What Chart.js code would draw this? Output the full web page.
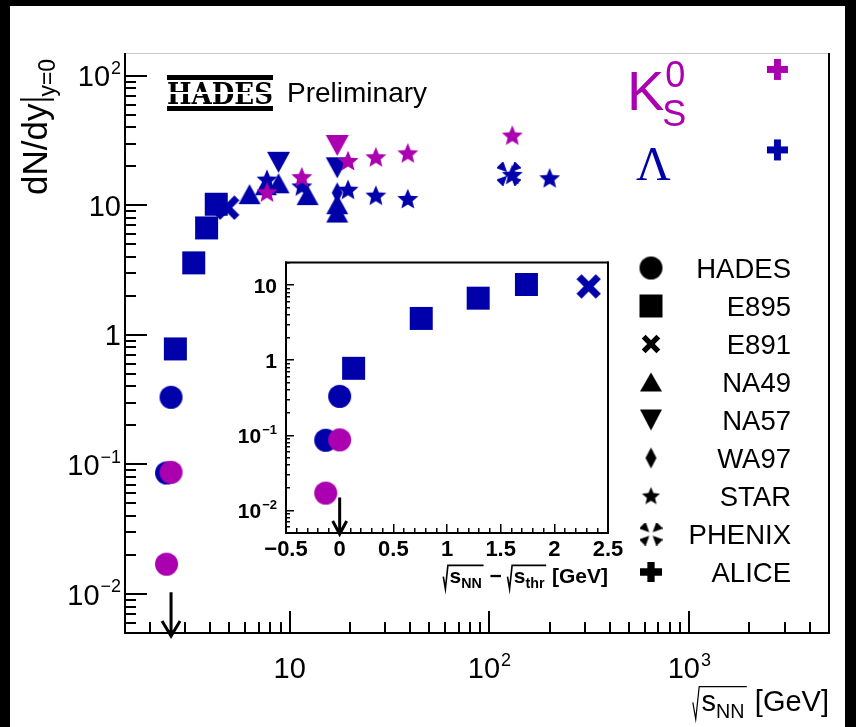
<!DOCTYPE html>
<html>
<head>
<meta charset="utf-8">
<script src="https://cdn.jsdelivr.net/npm/chart.js@4.4.0/dist/chart.umd.min.js"></script>
<style>
  body { margin: 0; background: #000; width: 856px; height: 727px; overflow: hidden; position: relative; }
  #main { position: absolute; left: 10px; top: 6px; background: #fff; }
  #inset { position: absolute; left: 225px; top: 250px; }
</style>
</head>
<body>
<canvas id="main" width="835" height="721"></canvas>
<canvas id="inset" width="415" height="350"></canvas>
<script>
// Lambda production threshold in NN collisions [GeV]
const sqrtSThr = 2.55;

// Lambda: sqrt(s_NN) [GeV] and dN/dy at y=0
const lamHadesE = [2.42, 2.55];
const lamHadesY = [0.086, 0.33];
const lamE895E = [2.68, 3.31, 3.84, 4.29];
const lamE895Y = [0.78, 3.6, 6.7, 10.2];
const lamE891E = [4.87];
const lamE891Y = [9.6];
const lamNA49E = [6.3, 7.6, 8.8, 12.3, 17.3, 17.3];
const lamNA49Y = [12.2, 14.3, 14.8, 12.0, 10.2, 8.8];
const lamNA57E = [8.8, 17.3];
const lamNA57Y = [21.5, 19.5];
const lamWA97E = [17.3];
const lamWA97Y = [12.5];
const lamStarE = [7.7, 11.5, 19.6, 27, 39, 130, 200];
const lamStarY = [15.8, 14, 13.2, 11.9, 11.2, 17.2, 16.2];
const lamPhenixE = [125];
const lamPhenixY = [17.5];
const lamAliceE = [2760];
const lamAliceY = [26.8];

// K0s: sqrt(s_NN) [GeV] and dN/dy at y=0
const k0HadesE = [2.42, 2.55];
const k0HadesY = [0.017, 0.087];
const k0NA57E = [17.3];
const k0NA57Y = [29];
const k0StarE = [7.7, 11.5, 19.6, 27, 39, 130];
const k0StarY = [12.6, 16.5, 22, 23.5, 25.2, 34.6];
const k0AliceE = [2760];
const k0AliceY = [112];

// axis ranges and labelled ticks
const mainXRange = [1.5, 5000];
const mainYRange = [0.005, 150];
const mainXLabels = [10, 100, 1000];
const mainYLabels = [0.01, 0.1, 1, 10, 100];
const insetXRange = [-0.5, 2.5];
const insetYRange = [0.005, 20];
const insetXLabels = [-0.5, 0, 0.5, 1, 1.5, 2, 2.5];
const insetYLabels = [0.01, 0.1, 1, 10];

const legendNames = ['HADES', 'E895', 'E891', 'NA49', 'NA57', 'WA97', 'STAR', 'PHENIX', 'ALICE'];
const legendShapes = ['circle', 'square', 'x', 'up', 'down', 'diamond', 'star', 'phenix', 'plus'];

const blue = '#0000aa';
const magenta = '#aa00b0';
const sans = '"Liberation Sans", Arial, sans-serif';

function fontOf(size, weight, fam) {
  return `${weight || 'normal'} ${size}px ${fam || sans}`;
}

// ROOT-like filled markers, rendered once into small canvases
const markerSize = {
  circle: [23, 23], square: [23, 23], up: [22, 20], down: [23, 21], diamond: [11, 21],
  star: [22, 22], plus: [21, 21], x: [21, 21], phenix: [20, 20]
};
const legendSize = {
  circle: [23, 23], square: [23, 23], up: [22, 19], down: [22, 21], diamond: [11, 21],
  star: [19, 19], plus: [22, 20], x: [16, 16], phenix: [19, 19]
};

function marker(shape, color, dims) {
  const [w, h] = dims;
  const c = document.createElement('canvas');
  c.width = Math.ceil(w + 4);
  c.height = Math.ceil(h + 4);
  const g = c.getContext('2d');
  const rx = w / 2, ry = h / 2;
  g.fillStyle = color;
  g.translate(c.width / 2, c.height / 2);
  g.beginPath();
  switch (shape) {
    case 'circle':
      g.arc(0, 0, rx, 0, Math.PI * 2);
      break;
    case 'square':
      g.rect(-rx, -ry, w, h);
      break;
    case 'up':
      g.moveTo(0, -ry); g.lineTo(rx, ry); g.lineTo(-rx, ry);
      break;
    case 'down':
      g.moveTo(0, ry); g.lineTo(rx, -ry); g.lineTo(-rx, -ry);
      break;
    case 'diamond':
      g.moveTo(0, -ry); g.lineTo(rx, 0); g.lineTo(0, ry); g.lineTo(-rx, 0);
      break;
    case 'star':
      for (let i = 0; i < 10; i++) {
        const ang = -Math.PI / 2 + i * Math.PI / 5;
        const r = i % 2 ? rx * 0.45 : rx;
        g.lineTo(r * Math.cos(ang), r * Math.sin(ang) + ry * 0.06);
      }
      break;
    case 'plus': {
      const t = w * 0.33;
      g.rect(-t / 2, -ry, t, h);
      g.rect(-rx, -t / 2, w, t);
      break;
    }
    case 'x': {
      const t = w * 0.34, l = rx * 1.3;
      g.rotate(Math.PI / 4);
      g.rect(-t / 2, -l, t, 2 * l);
      g.rect(-l, -t / 2, 2 * l, t);
      break;
    }
    case 'phenix':
      for (let k = 0; k < 4; k++) {
        const ang = Math.PI / 4 + k * Math.PI / 2;
        const ux = Math.cos(ang), uy = Math.sin(ang);
        const inner = rx * 0.25, outer = rx * 1.3, half = rx * 0.5;
        g.moveTo(ux * inner, uy * inner);
        g.lineTo(ux * outer - uy * half, uy * outer + ux * half);
        g.lineTo(ux * outer + uy * half, uy * outer - ux * half);
        g.closePath();
      }
      break;
  }
  g.closePath();
  g.fill();
  return c;
}

const legendMarkers = legendShapes.map(s => marker(s, '#000', legendSize[s]));

function pts(xs, ys, shift) {
  return xs.map((x, i) => ({ x: x - (shift || 0), y: ys[i] }));
}

function series(label, xs, ys, shape, color, order, shift) {
  return {
    label,
    data: pts(xs, ys, shift),
    pointStyle: marker(shape, color, markerSize[shape]),
    pointRadius: markerSize[shape][0] / 2,
    order
  };
}

// 1..9 x 10^n steps inside [lo, hi]
function logSteps(lo, hi) {
  const out = [];
  const e0 = Math.floor(Math.log10(lo)), e1 = Math.ceil(Math.log10(hi));
  for (let e = e0; e <= e1; e++) {
    for (let m = 1; m < 10; m++) {
      const v = m * Math.pow(10, e);
      if (v >= lo * 0.999 && v <= hi * 1.001) out.push({ v: v, major: m === 1 });
    }
  }
  return out;
}

// tick marks pointing into the frame
function yTicks(ctx, scale, steps, x0, majLen, minLen, th) {
  steps.forEach(t => {
    const py = scale.getPixelForValue(t.v);
    ctx.fillRect(x0, Math.round(py - th / 2), t.major ? majLen : minLen, th);
  });
}
function xTicks(ctx, scale, steps, y0, majLen, minLen, th) {
  steps.forEach(t => {
    const px = scale.getPixelForValue(t.v);
    const len = t.major ? majLen : minLen;
    ctx.fillRect(Math.round(px - th / 2), y0 - len, th, len);
  });
}

function powerParts(v) {
  const e = Math.round(Math.log10(v));
  if (e === 0) return ['1', ''];
  if (e === 1) return ['10', ''];
  return ['10', e < 0 ? '\u2212' + (-e) : String(e)];
}

function drawPower(ctx, v, x, base, size, weight, align) {
  const [b, e] = powerParts(v);
  ctx.font = fontOf(size, weight);
  const wb = ctx.measureText(b).width;
  ctx.font = fontOf(size * 0.62, weight);
  const we = e ? ctx.measureText(e).width + 1 : 0;
  const w = wb + we;
  const x0 = align === 'right' ? x - w : x - w / 2;
  ctx.textAlign = 'left';
  ctx.textBaseline = 'alphabetic';
  ctx.font = fontOf(size, weight);
  ctx.fillText(b, x0, base);
  if (e) {
    ctx.font = fontOf(size * 0.62, weight);
    ctx.fillText(e, x0 + wb + 1, base - size * 0.42);
  }
}

// radical sign over "s" with a subscript; returns the width used
function sqrtTerm(ctx, x, base, size, sub, weight, draw) {
  ctx.font = fontOf(size, weight);
  const ws = ctx.measureText('s').width;
  ctx.font = fontOf(size * 0.68, weight);
  const wsub = ctx.measureText(sub).width;
  const lead = size * 0.3;
  const w = lead + ws + wsub + size * 0.08;
  if (draw) {
    const top = base - size * 0.84;
    ctx.lineWidth = weight === 'bold' ? 1.6 : 1.2;
    ctx.beginPath();
    ctx.moveTo(x, base - size * 0.3);
    ctx.lineTo(x + size * 0.1, base + size * 0.28);
    ctx.lineTo(x + size * 0.22, top);
    ctx.lineTo(x + w, top);
    ctx.stroke();
    ctx.textAlign = 'left';
    ctx.font = fontOf(size, weight);
    ctx.fillText('s', x + lead, base);
    ctx.font = fontOf(size * 0.68, weight);
    ctx.fillText(sub, x + lead + ws, base + size * 0.24);
  }
  return w;
}

// pieces: strings or {sqrt: 'NN'}; right aligned at xRight
function drawTitle(ctx, pieces, xRight, base, size, weight) {
  const widthOf = p => {
    if (typeof p === 'string') { ctx.font = fontOf(size, weight); return ctx.measureText(p).width; }
    return sqrtTerm(ctx, 0, base, size, p.sqrt, weight, false);
  };
  let x = xRight - pieces.reduce((s, p) => s + widthOf(p), 0);
  pieces.forEach(p => {
    const w = widthOf(p);
    if (typeof p === 'string') {
      ctx.font = fontOf(size, weight);
      ctx.textAlign = 'left';
      ctx.fillText(p, x, base);
    } else {
      sqrtTerm(ctx, x, base, size, p.sqrt, weight, true);
    }
    x += w;
  });
}

function drawArrow(ctx, px, top, bottom, half, head, lw) {
  ctx.lineWidth = lw;
  ctx.lineCap = 'butt';
  ctx.beginPath();
  ctx.moveTo(px, top);
  ctx.lineTo(px, bottom - 1);
  ctx.moveTo(px - half, bottom - head);
  ctx.lineTo(px, bottom);
  ctx.lineTo(px + half, bottom - head);
  ctx.stroke();
}

const mainDecor = {
  id: 'mainDecor',
  afterDraw(chart) {
    const ctx = chart.ctx, a = chart.chartArea;
    const xs = chart.scales.x, ys = chart.scales.y;
    ctx.save();

    // frame: grey top edge, black axes
    ctx.fillStyle = '#c8c8c8';
    ctx.fillRect(a.left, a.top, a.right - a.left, 1);
    ctx.fillStyle = '#000';
    ctx.fillRect(a.left - 1, a.top, 2, a.bottom - a.top + 1);
    ctx.fillRect(a.left - 1, a.bottom - 1, a.right - a.left + 2, 2);
    ctx.fillRect(a.right - 1, a.top, 2, a.bottom - a.top + 1);

    yTicks(ctx, ys, logSteps(mainYRange[0], mainYRange[1]), a.left, 22, 11, 2);
    xTicks(ctx, xs, logSteps(mainXRange[0], mainXRange[1]), a.bottom, 22, 11, 2);

    // tick labels
    mainYLabels.forEach(v => drawPower(ctx, v, a.left - 4, ys.getPixelForValue(v) + 10.5, 29, 'normal', 'right'));
    mainXLabels.forEach(v => drawPower(ctx, v, xs.getPixelForValue(v), a.bottom + 45, 29, 'normal', 'center'));

    // axis titles
    ctx.strokeStyle = '#000';
    drawTitle(ctx, [{ sqrt: 'NN' }, ' [GeV]'], a.right, a.bottom + 78, 29, 'normal');
    ctx.save();
    ctx.translate(37, 189);
    ctx.rotate(-Math.PI / 2);
    ctx.font = fontOf(35);
    ctx.textAlign = 'left';
    ctx.fillText('dN/dy', 0, 0);
    const wt = ctx.measureText('dN/dy').width;
    ctx.fillRect(wt + 3, -27, 2, 34);
    ctx.font = fontOf(23);
    ctx.fillText('y=0', wt + 7, 8);
    ctx.restore();

    // threshold arrow
    drawArrow(ctx, xs.getPixelForValue(sqrtSThr), ys.getPixelForValue(0.0103), a.bottom + 3, 9, 15, 3);

    // experiment logo
    ctx.fillRect(157, 69, 106, 5);
    ctx.fillRect(157, 100, 106, 5);
    ctx.save();
    ctx.font = fontOf(28, 'bold', '"DejaVu Serif", serif');
    const lw = ctx.measureText('HADES').width;
    ctx.translate(157, 98);
    ctx.scale(106 / lw, 1.05);
    ctx.fillText('HADES', 0, 0);
    ctx.restore();
    ctx.fillStyle = '#fff';
    ctx.fillRect(157, 86, 106, 2);
    ctx.fillStyle = '#000';
    ctx.font = fontOf(28);
    ctx.fillText('Preliminary', 277, 96);

    // particle labels
    ctx.fillStyle = magenta;
    ctx.font = fontOf(56);
    ctx.fillText('K', 617, 104);
    const wk = ctx.measureText('K').width;
    ctx.font = fontOf(36);
    ctx.fillText('0', 617 + wk + 1, 81);
    ctx.fillText('S', 617 + wk - 2, 120);
    ctx.fillStyle = blue;
    ctx.font = fontOf(48, 'normal', '"Liberation Serif", "DejaVu Serif", serif');
    ctx.fillText('\u039B', 626, 174);

    // experiment legend
    ctx.fillStyle = '#000';
    ctx.font = fontOf(27.5);
    ctx.textAlign = 'right';
    legendNames.forEach((name, i) => {
      const cy = 262 + i * 38;
      const m = legendMarkers[i];
      ctx.drawImage(m, 641 - m.width / 2, cy - m.height / 2);
      ctx.fillText(name, 781, cy + 10);
    });
    ctx.restore();
  }
};

const insetDecor = {
  id: 'insetDecor',
  beforeDatasetsDraw(chart) {
    const { ctx, chartArea: a } = chart;
    ctx.save();
    ctx.fillStyle = '#fff';
    ctx.fillRect(a.left, a.top, a.width, a.height);
    ctx.restore();
  },
  afterDraw(chart) {
    const ctx = chart.ctx, a = chart.chartArea;
    const xs = chart.scales.x, ys = chart.scales.y;
    ctx.save();
    ctx.fillStyle = '#000';
    ctx.strokeStyle = '#000';
    ctx.fillRect(a.left - 1, a.top - 1, a.width + 2, 2);
    ctx.fillRect(a.left - 1, a.bottom - 1, a.width + 2, 2);
    ctx.fillRect(a.left - 1, a.top - 1, 2, a.height + 2);
    ctx.fillRect(a.right - 1, a.top - 1, 2, a.height + 2);

    const xSteps = [];
    for (let i = -5; i <= 25; i++) xSteps.push({ v: i / 10, major: i % 5 === 0 });
    yTicks(ctx, ys, logSteps(insetYRange[0], insetYRange[1]), a.left, 8, 4, 1.5);
    xTicks(ctx, xs, xSteps, a.bottom, 9, 5, 1.5);

    insetYLabels.forEach(v => drawPower(ctx, v, a.left - 9, ys.getPixelForValue(v) + 7.5, 21, 'bold', 'right'));
    ctx.font = fontOf(22, 'bold');
    ctx.textAlign = 'center';
    insetXLabels.forEach(v => {
      const s = v < 0 ? '\u2212' + String(-v) : String(v);
      ctx.fillText(s, xs.getPixelForValue(v), a.bottom + 23);
    });

    drawTitle(ctx, [{ sqrt: 'NN' }, ' \u2212 ', { sqrt: 'thr' }, ' [GeV]'], a.right, a.bottom + 50, 21, 'bold');

    drawArrow(ctx, xs.getPixelForValue(0), ys.getPixelForValue(0.0148), a.bottom + 1, 7, 13, 3);
    ctx.restore();
  }
};

const baseOptions = (padding, xScale, yScale) => ({
  responsive: false,
  animation: false,
  devicePixelRatio: 1,
  layout: { padding },
  plugins: { legend: { display: false }, tooltip: { enabled: false } },
  scales: { x: xScale, y: yScale }
});

new Chart(document.getElementById('main'), {
  type: 'scatter',
  data: {
    datasets: [
      // K0s drawn on top of Lambda
      series('HADES K0s', k0HadesE, k0HadesY, 'circle', magenta, 0),
      series('NA57 K0s', k0NA57E, k0NA57Y, 'down', magenta, 0),
      series('STAR K0s', k0StarE, k0StarY, 'star', magenta, 0),
      series('ALICE K0s', k0AliceE, k0AliceY, 'plus', magenta, 0),
      series('HADES Lambda', lamHadesE, lamHadesY, 'circle', blue, 1),
      series('E895 Lambda', lamE895E, lamE895Y, 'square', blue, 1),
      series('E891 Lambda', lamE891E, lamE891Y, 'x', blue, 1),
      series('STAR Lambda', lamStarE, lamStarY, 'star', blue, 1),
      series('PHENIX Lambda', lamPhenixE, lamPhenixY, 'phenix', blue, 1),
      series('WA97 Lambda', lamWA97E, lamWA97Y, 'diamond', blue, 1),
      series('NA57 Lambda', lamNA57E, lamNA57Y, 'down', blue, 1),
      series('NA49 Lambda', lamNA49E, lamNA49Y, 'up', blue, 1),
      series('ALICE Lambda', lamAliceE, lamAliceY, 'plus', blue, 1)
    ]
  },
  options: baseOptions(
    { left: 115, top: 47, right: 16, bottom: 94 },
    { type: 'logarithmic', min: mainXRange[0], max: mainXRange[1], display: false },
    { type: 'logarithmic', min: mainYRange[0], max: mainYRange[1], display: false }
  ),
  plugins: [mainDecor]
});

// zoom on the threshold region, x measured from sqrt(s_thr)
new Chart(document.getElementById('inset'), {
  type: 'scatter',
  data: {
    datasets: [
      series('HADES K0s', k0HadesE, k0HadesY, 'circle', magenta, 0, sqrtSThr),
      series('HADES Lambda', lamHadesE, lamHadesY, 'circle', blue, 1, sqrtSThr),
      series('E895 Lambda', lamE895E, lamE895Y, 'square', blue, 1, sqrtSThr),
      series('E891 Lambda', lamE891E, lamE891Y, 'x', blue, 1, sqrtSThr)
    ]
  },
  options: baseOptions(
    { left: 61, top: 12, right: 32, bottom: 67 },
    { type: 'linear', min: insetXRange[0], max: insetXRange[1], display: false },
    { type: 'logarithmic', min: insetYRange[0], max: insetYRange[1], display: false }
  ),
  plugins: [insetDecor]
});
</script>
</body>
</html>
